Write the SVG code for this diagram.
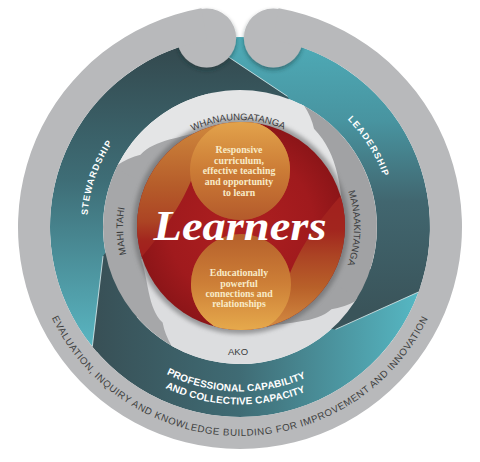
<svg xmlns="http://www.w3.org/2000/svg" width="480" height="462" viewBox="0 0 480 462">
<defs>
<style>
.lbl{font-family:"Liberation Sans",Arial,sans-serif;fill:#3a3b3c;font-size:9.5px}
.wt{font-family:"Liberation Sans",Arial,sans-serif;fill:#ffffff;font-weight:bold}
.ser{font-family:"Liberation Serif","Times New Roman",serif;font-weight:bold;fill:#f8ebc8;font-size:9.8px;text-anchor:middle}
.ev{font-family:"Liberation Sans",Arial,sans-serif;fill:#3e3f40;font-size:9.7px;letter-spacing:0.6px}
</style>
<linearGradient id="gStew" gradientUnits="userSpaceOnUse" x1="0" y1="40" x2="0" y2="350">
<stop offset="0" stop-color="#33474c"/><stop offset="0.45" stop-color="#3e6d76"/><stop offset="1" stop-color="#5ab7c3"/>
</linearGradient>
<linearGradient id="gLead" gradientUnits="userSpaceOnUse" x1="0" y1="40" x2="0" y2="310">
<stop offset="0" stop-color="#4eabb7"/><stop offset="0.3" stop-color="#4894a0"/><stop offset="0.6" stop-color="#41666f"/><stop offset="1" stop-color="#3a545a"/>
</linearGradient>
<linearGradient id="gProf" gradientUnits="userSpaceOnUse" x1="90" y1="0" x2="420" y2="0">
<stop offset="0" stop-color="#384f55"/><stop offset="0.45" stop-color="#3f6b74"/><stop offset="1" stop-color="#56b8c4"/>
</linearGradient>
<radialGradient id="gRed" gradientUnits="userSpaceOnUse" cx="241" cy="226" r="104">
<stop offset="0" stop-color="#ae1f20"/><stop offset="0.7" stop-color="#a01a1d"/><stop offset="1" stop-color="#8c1518"/>
</radialGradient>
<linearGradient id="gUpT" gradientUnits="userSpaceOnUse" x1="0" y1="120" x2="0" y2="250">
<stop offset="0" stop-color="#d08a3e"/><stop offset="0.5" stop-color="#b65d2a"/><stop offset="0.78" stop-color="#ac4424"/><stop offset="0.93" stop-color="#a2251e"/><stop offset="1" stop-color="#a2211e"/>
</linearGradient>
<linearGradient id="gUpH" gradientUnits="userSpaceOnUse" x1="0" y1="120" x2="0" y2="220">
<stop offset="0" stop-color="#e3a44c"/><stop offset="0.5" stop-color="#cc7c36"/><stop offset="1" stop-color="#b45a2b"/>
</linearGradient>
<linearGradient id="gLoT" gradientUnits="userSpaceOnUse" x1="0" y1="200" x2="0" y2="334">
<stop offset="0" stop-color="#a2211e"/><stop offset="0.22" stop-color="#a2251e"/><stop offset="0.42" stop-color="#ac4424"/><stop offset="0.65" stop-color="#b86029"/><stop offset="1" stop-color="#d89246"/>
</linearGradient>
<linearGradient id="gLoH" gradientUnits="userSpaceOnUse" x1="0" y1="234" x2="0" y2="334">
<stop offset="0" stop-color="#b6602b"/><stop offset="0.5" stop-color="#cd7f37"/><stop offset="1" stop-color="#e8ad4e"/>
</linearGradient>
<clipPath id="cRed"><circle cx="241" cy="226" r="104"/></clipPath>
<filter id="sh" x="-40%" y="-40%" width="180%" height="180%"><feDropShadow dx="0" dy="2.5" stdDeviation="2" flood-color="#1a2a2e" flood-opacity="0.45"/></filter>
<filter id="bl" x="-20%" y="-20%" width="140%" height="140%"><feGaussianBlur stdDeviation="2.2"/></filter>
<path id="tS" d="M 136.92,-4.78 L 137,0 Q 131,11 121.49,19.24 C 116,40 91.3,52.8 77.29,69.59 L 74.31,66.91 A 100 100 0 0 0 99.94,-3.49 Z"/>
<path id="tL" d="M 136.92,-4.78 L 137,0 Q 131,11 121.49,19.24 C 110.8,53.1 79,73 48.82,91.83 L 46.95,88.29 A 100 100 0 0 0 99.94,-3.49 Z"/>
<path id="pW" d="M 133,227 A 107 107 0 0 1 347,227"/>
<path id="pM" d="M 240,113 A 114 114 0 0 1 240,341"/>
<path id="pMT" d="M 240,344 A 117 117 0 0 1 240,110"/>
<path id="pS" d="M 240,380 A 153 153 0 0 1 240,74"/>
<path id="pL" d="M 240,75 A 152 152 0 0 1 240,379"/>
<path id="pP1" d="M 75.5,227 A 164.5 164.5 0 0 0 404.5,227"/>
<path id="pP2" d="M 62.5,227 A 177.5 177.5 0 0 0 417.5,227"/>
<path id="pE" d="M 31,227 A 209 209 0 0 0 449,227"/>
</defs>
<rect width="480" height="462" fill="#ffffff"/>

<g id="teal-ring">
<path id="stewardship" fill="url(#gStew)" d="M 92.34,346.57 A 190 190 0 0 1 203.75,40.49 L 213.86,92.52 A 137 137 0 0 0 133.53,313.22 Z"/>
<path id="leadership" fill="url(#gLead)" d="M 203.75,40.49 A 190 190 0 0 1 418.54,291.98 L 368.74,273.86 A 137 137 0 0 0 213.86,92.52 Z"/>
<path id="professional" fill="url(#gProf)" d="M 418.54,291.98 A 190 190 0 0 1 92.34,346.57 L 133.53,313.22 A 137 137 0 0 0 368.74,273.86 Z"/>
<path fill="url(#gStew)" d="M 197.26,41.87 L 203.75,40.49 L 287.54,96.38 L 292.88,108.24 A 130 130 0 0 0 210.76,100.33 Z"/>
<path fill="url(#gLead)" d="M 420.70,285.71 L 418.54,291.98 L 335.48,329.39 L 321.81,328.03 A 130 130 0 0 0 363.64,267.17 Z"/>
<path fill="url(#gProf)" d="M 96.61,351.65 L 92.34,346.57 L 103.06,256.11 L 111.26,245.09 A 130 130 0 0 0 141.89,312.29 Z"/>
<path fill="none" stroke="#e6f4f6" stroke-width="0.9" opacity="0.85" d="M 203.75,40.49 L 287.54,96.38 M 418.54,291.98 L 335.48,329.39 M 92.34,346.57 L 103.06,256.11"/>
</g>

<g id="outer-ring">
<g filter="url(#sh)">
<circle cx="206.66" cy="37.92" r="29.5" fill="#b8b9bb"/>
<circle cx="273.34" cy="37.92" r="29.5" fill="#b8b9bb"/>
</g>
<path fill="#b8b9bb" d="M 278.55,8.37 A 222 222 0 1 1 201.45,8.37 L 207.01,39.89 A 190 190 0 1 0 272.99,39.89 Z"/>
</g>

<g id="values-ring">
<path fill="#e4e5e6" transform="translate(240 227) rotate(-153)" d="M 137,0 A 137 137 0 0 1 -2.39,136.98 L -1.75,99.98 A 100 100 0 0 0 100,0 Z"/>
<path fill="#a1a2a4" transform="translate(240 227) rotate(-62)" d="M 137,0 A 137 137 0 0 1 -11.94,136.48 L -8.72,99.62 A 100 100 0 0 0 100,0 Z"/>
<path fill="#dcdddf" transform="translate(240 227) rotate(33)" d="M 137,0 A 137 137 0 0 1 7.17,136.81 L 5.23,99.86 A 100 100 0 0 0 100,0 Z"/>
<path fill="#a6a7a9" transform="translate(240 227) rotate(120)" d="M 137,0 A 137 137 0 0 1 7.17,136.81 L 5.23,99.86 A 100 100 0 0 0 100,0 Z"/>
<use href="#tL" fill="#e4e5e6" transform="translate(240 227) rotate(-62)"/>
<use href="#tS" fill="#a1a2a4" transform="translate(240 227) rotate(33)"/>
<use href="#tS" fill="#dcdddf" transform="translate(240 227) rotate(120)"/>
<use href="#tS" fill="#a6a7a9" transform="translate(240 227) rotate(-153)"/>
</g>

<g id="learners-core">
<circle cx="241" cy="226" r="108" fill="#5e5f61" opacity="0.55" filter="url(#bl)"/>
<circle cx="241" cy="226" r="104" fill="url(#gRed)"/>
<g clip-path="url(#cRed)">
<path fill="url(#gUpT)" d="M 240,120 A 50 50 0 1 1 191.1,180.4 C 184,198 168,228 132,268 L 100,268 L 100,95 L 240,95 Z"/>
<path fill="url(#gUpH)" d="M 240,120 A 50 50 0 1 1 191.1,180.4 A 50 50 0 0 1 240,120 Z"/>
<path fill="url(#gLoT)" d="M 241,334 A 50 50 0 1 1 289.9,273.6 C 297,256 313,224 350,186 L 380,186 L 380,350 L 241,350 Z"/>
<path fill="url(#gLoH)" d="M 241,334 A 50 50 0 1 1 289.9,273.6 A 50 50 0 0 1 241,334 Z"/>
</g>
<text x="240" y="240" font-family="'Liberation Serif','Times New Roman',serif" font-weight="bold" font-style="italic" font-size="42" fill="#ffffff" text-anchor="middle" textLength="173" lengthAdjust="spacingAndGlyphs">Learners</text>
<text class="ser" x="239" y="153">Responsive</text>
<text class="ser" x="239" y="163.7">curriculum,</text>
<text class="ser" x="239" y="174.4">effective teaching</text>
<text class="ser" x="239" y="185.1">and opportunity</text>
<text class="ser" x="239" y="195.8">to learn</text>
<text class="ser" x="239" y="276">Educationally</text>
<text class="ser" x="239" y="286.5">powerful</text>
<text class="ser" x="239" y="296.5">connections and</text>
<text class="ser" x="239" y="306.5">relationships</text>
</g>

<g id="labels">
<text class="lbl" text-anchor="middle"><textPath href="#pW" startOffset="49.4%">WHANAUNGATANGA</textPath></text>
<text class="lbl" text-anchor="middle"><textPath href="#pM" startOffset="50.3%">MANAAKITANGA</textPath></text>
<text class="lbl" text-anchor="middle"><textPath href="#pMT" startOffset="48.9%">MAHI TAHI</textPath></text>
<text class="lbl" x="238" y="355" font-size="10" text-anchor="middle">AKO</text>
<text class="wt" font-size="9" letter-spacing="1.1" text-anchor="middle"><textPath href="#pS" startOffset="60.6%">STEWARDSHIP</textPath></text>
<text class="wt" font-size="9" letter-spacing="1.1" text-anchor="middle"><textPath href="#pL" startOffset="32.2%">LEADERSHIP</textPath></text>
<text class="wt" font-size="10" letter-spacing="0.15" text-anchor="middle"><textPath href="#pP1" startOffset="49.2%">PROFESSIONAL CAPABILITY</textPath></text>
<text class="wt" font-size="10" letter-spacing="0.15" text-anchor="middle"><textPath href="#pP2" startOffset="49.1%">AND COLLECTIVE CAPACITY</textPath></text>
<text class="ev" text-anchor="middle"><textPath href="#pE" startOffset="50%">EVALUATION, INQUIRY AND KNOWLEDGE BUILDING FOR IMPROVEMENT AND INNOVATION</textPath></text>
</g>
</svg>
